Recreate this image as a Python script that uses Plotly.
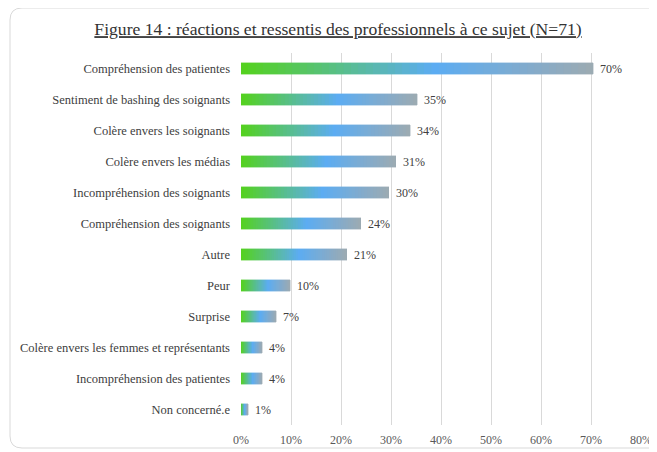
import plotly.graph_objects as go

categories = [
    "Compréhension des patientes",
    "Sentiment de bashing des soignants",
    "Colère envers les soignants",
    "Colère envers les médias",
    "Incompréhension des soignants",
    "Compréhension des soignants",
    "Autre",
    "Peur",
    "Surprise",
    "Colère envers les femmes et représentants",
    "Incompréhension des patientes",
    "Non concerné.e",
]
counts = [50, 25, 24, 22, 21, 17, 15, 7, 5, 3, 3, 1]
total_n = 71
values = [100.0 * c / total_n for c in counts]
labels = [f"{round(v):d}%" for v in values]
tick_vals = [0, 10, 20, 30, 40, 50, 60, 70, 80]
tick_text = [f"{t}%" for t in tick_vals]

SERIF = "Liberation Serif, Times New Roman, Tinos, DejaVu Serif, serif"

# gradient stops (fraction along bar, rgb)
stops = [(0.0, (84, 210, 28)), (0.55, (92, 172, 242)), (1.0, (156, 171, 178))]


def grad(t):
    for (t0, c0), (t1, c1) in zip(stops[:-1], stops[1:]):
        if t <= t1:
            f = (t - t0) / (t1 - t0)
            return "rgb(%d,%d,%d)" % tuple(round(a + (b - a) * f) for a, b in zip(c0, c1))
    return "rgb(%d,%d,%d)" % stops[-1][1]


N_SEG = 48
fig = go.Figure()
for i in range(N_SEG):
    c = grad((i + 0.5) / N_SEG)
    fig.add_trace(go.Bar(
        y=categories,
        x=[v / N_SEG for v in values],
        orientation="h",
        marker=dict(color=c, line=dict(width=0.4, color=c)),
        showlegend=False,
        hoverinfo="skip",
    ))

annotations = [
    dict(x=v, y=cat, xref="x", yref="y", text=lab, showarrow=False,
         xanchor="left", yanchor="middle", xshift=5,
         font=dict(family=SERIF, size=12, color="#404040"))
    for v, cat, lab in zip(values, categories, labels)
]

# the page places the figure 8px in from the top-left corner
OFF = 8
FW, FH = 657 - OFF, 452 - OFF
# plot area in figure pixels
L, R, T, B = 241 - OFF, 641 - OFF, 53 - OFF, 425 - OFF
W, H = R - L, B - T


def px(x):
    return (x - OFF - L) / W


def py(y):
    return (B - (y - OFF)) / H


x0, x1, y0, y1, r = 10, 664, 8, 448, 12
path = (
    f"M {px(x0 + r)} {py(y0)} L {px(x1 - r)} {py(y0)} "
    f"Q {px(x1)} {py(y0)} {px(x1)} {py(y0 + r)} L {px(x1)} {py(y1 - r)} "
    f"Q {px(x1)} {py(y1)} {px(x1 - r)} {py(y1)} L {px(x0 + r)} {py(y1)} "
    f"Q {px(x0)} {py(y1)} {px(x0)} {py(y1 - r)} L {px(x0)} {py(y0 + r)} "
    f"Q {px(x0)} {py(y0)} {px(x0 + r)} {py(y0)} Z"
)

fig.update_layout(
    template="none",
    width=FW, height=FH,
    margin=dict(l=L, r=FW - R, t=T, b=FH - B, pad=0),
    paper_bgcolor="white", plot_bgcolor="white",
    barmode="stack", bargap=0.64,
    font=dict(family=SERIF, color="#404040"),
    title=dict(
        text="Figure 14 : réactions et ressentis des professionnels à ce sujet (N=71)",
        x=(338 - OFF) / FW, xanchor="center", y=1 - (29 - OFF) / FH, yanchor="middle",
        font=dict(family=SERIF, size=17.6, color="#333333", lineposition="under"),
    ),
    annotations=annotations,
    shapes=[dict(type="path", xref="paper", yref="paper", path=path,
                 line=dict(color="#d9d9d9", width=1), fillcolor="rgba(0,0,0,0)", layer="below")],
    xaxis=dict(range=[0, 80], tickvals=tick_vals, ticktext=tick_text, automargin=False,
               showgrid=True, gridcolor="#d9d9d9", gridwidth=1, zeroline=False,
               showline=False, ticks="", ticklabelstandoff=6,
               tickfont=dict(family=SERIF, size=12, color="#595959"), fixedrange=True),
    yaxis=dict(autorange="reversed", showgrid=False, zeroline=False, showline=False,
               ticks="", ticklabelstandoff=10, automargin=False,
               tickfont=dict(family=SERIF, size=12.5, color="#404040"), fixedrange=True),
)

fig.write_html("out.html")
